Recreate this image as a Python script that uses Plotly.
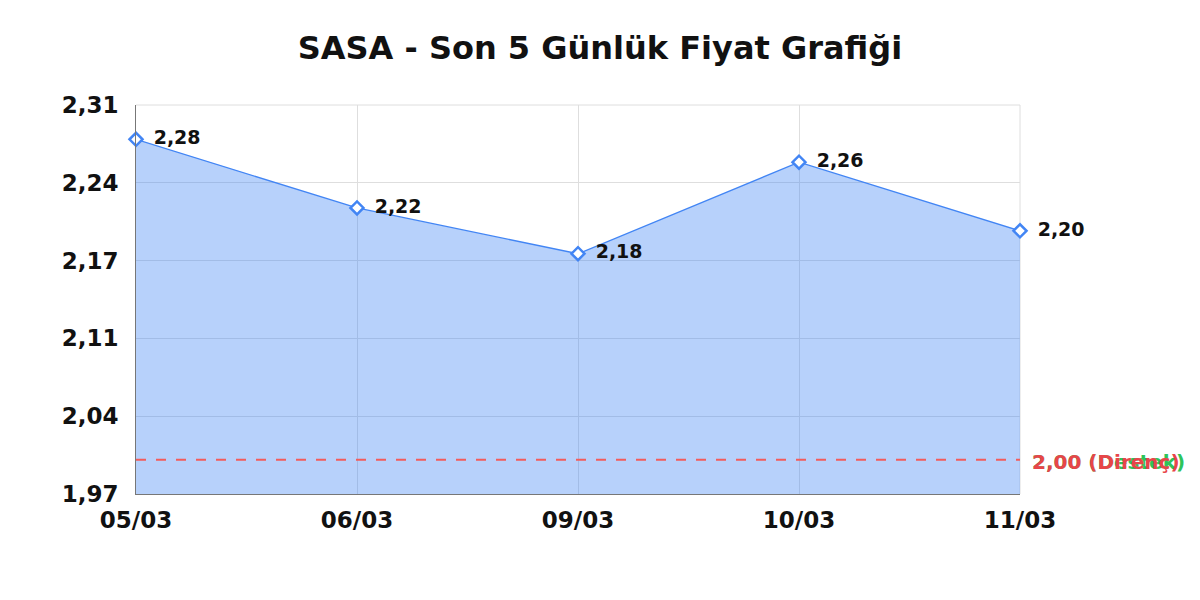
import plotly.graph_objects as go

dates = ["05/03", "06/03", "09/03", "10/03", "11/03"]
prices = [2.28, 2.22, 2.18, 2.26, 2.20]
price_labels = ["2,28", "2,22", "2,18", "2,26", "2,20"]
support_level = 2.00
resistance_level = 2.00
y_tickvals = [1.97, 2.038, 2.106, 2.174, 2.242, 2.31]
y_ticktext = ["1,97", "2,04", "2,11", "2,17", "2,24", "2,31"]

FONT = "DejaVu Sans"
BLUE = "#4285f4"

fig = go.Figure()
fig.add_trace(go.Scatter(
    x=dates, y=prices, mode="lines+markers+text",
    line=dict(color=BLUE, width=1.3),
    fill="tozeroy", fillcolor="rgba(66,133,244,0.38)",
    marker=dict(symbol="diamond", size=10, color="white", line=dict(width=2.5, color=BLUE)),
    text=[" \u2009" + t for t in price_labels], textposition="middle right",
    textfont=dict(family=FONT, size=19, color="#111111", weight="bold"),
    cliponaxis=False, showlegend=False, hoverinfo="skip",
))

fig.add_shape(type="line", xref="paper", x0=0, x1=1, yref="y",
              y0=support_level, y1=support_level,
              line=dict(color="#f25c5c", width=2, dash="10px,10px"))
fig.add_annotation(xref="paper", x=1.011, yref="y", y=support_level,
                   text=f"{support_level:.2f}".replace(".", ",") + " (Destek)",
                   showarrow=False, xanchor="left", yshift=-2,
                   font=dict(family=FONT, size=20, color="#2ec45a", weight="bold"))
fig.add_annotation(xref="paper", x=1.011, yref="y", y=resistance_level,
                   text=f"{resistance_level:.2f}".replace(".", ",") + " (Direnç)",
                   showarrow=False, xanchor="left", yshift=-2,
                   font=dict(family=FONT, size=20, color="#e8454a", weight="bold"))

fig.update_layout(
    width=1200, height=600,
    margin=dict(l=128, r=188, t=97, b=114),
    paper_bgcolor="white", plot_bgcolor="white",
    title=dict(text="<b>SASA - Son 5 Günlük Fiyat Grafiği</b>", x=0.4933, xanchor="center",
               xref="container", y=0.933, yanchor="middle",
               font=dict(family=FONT, size=32, color="#111111")),
    font=dict(family=FONT),
)
fig.update_xaxes(type="category", range=[0, 4], showgrid=True, gridcolor="#dedede",
                 showline=True, linecolor="#777777", linewidth=1, ticks="",
                 tickfont=dict(family=FONT, size=23, color="#111111", weight="bold"),
                 mirror=False, zeroline=False, ticklabelstandoff=5)
fig.update_yaxes(range=[1.97, 2.31], tickvals=y_tickvals, ticktext=y_ticktext,
                 showgrid=True, gridcolor="#dedede", showline=True, linecolor="#777777",
                 linewidth=1, ticks="", zeroline=False, ticklabelstandoff=12,
                 tickfont=dict(family=FONT, size=23, color="#111111", weight="bold"))
fig.add_shape(type="line", xref="paper", yref="paper", x0=0, x1=1, y0=1, y1=1,
              line=dict(color="#dedede", width=1), layer="below")
fig.add_shape(type="line", xref="paper", yref="paper", x0=1, x1=1, y0=0, y1=1,
              line=dict(color="#dedede", width=1), layer="below")

fig.write_html("out.html")
